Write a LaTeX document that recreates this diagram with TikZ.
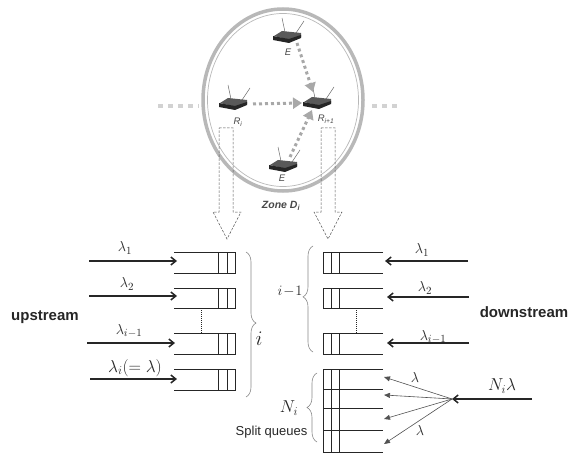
\documentclass[tikz,border=0pt]{standalone}
\usepackage{fontspec}
\setsansfont{Liberation Sans}
\usetikzlibrary{arrows.meta}
\usetikzlibrary{decorations.pathreplacing}

\definecolor{ink}{gray}{0.15}
\definecolor{ringgray}{gray}{0.72}
\definecolor{linkgray}{gray}{0.66}

\tikzset{
  queue/.style={ink, line width=1pt},
  flow/.style={ink, line width=1.3pt, -{Straight Barb[length=5pt,width=8pt,line width=1.5pt]}},
  split/.style={ink!80, line width=0.6pt, -{Triangle[length=6pt,width=5pt]}},
  link/.style={linkgray, line width=3pt, dash pattern=on 3pt off 3pt, -{Triangle[length=9pt,width=11pt]}},
  stub/.style={gray!35, line width=3.5pt, dash pattern=on 5pt off 5pt},
  hollow/.style={ink!80, line width=0.5pt, dash pattern=on 2.5pt off 1.5pt},
  curly/.style={ink!55, line width=0.6pt, decorate},
  small/.style={font=\sffamily\itshape\fontsize{9.5}{11}\selectfont, text=ink!85, inner sep=0pt},
  bigtext/.style={font=\sffamily\bfseries\fontsize{15}{17}\selectfont, text=ink, inner sep=0pt},
  rate/.style={font=\fontsize{15}{17}\selectfont, text=ink, inner sep=0pt},
  router/.pic={
    \draw[ink!70, line width=0.5pt] (-2,-5) -- (-5,-19);
    \draw[ink!70, line width=0.5pt] (9,-4) -- (17,-16);
    \fill[gray!70!black] (-13,-1) -- (-5,-6) -- (14,-4) -- (14,0) -- (4,3) -- cycle;
    \fill[ink] (-14,-1) -- (2,2) -- (14,-2) -- (14,1) -- (2,6) -- (-14,3) -- cycle;
  }
}

% left queue, rows at y=#1 and y=#2
\newcommand{\upqueue}[2]{
  \draw[queue] (174,#1) -- (235,#1) -- (235,#2) -- (174,#2);
  \draw[queue] (218,#1) -- (218,#2);
  \draw[queue] (227,#1) -- (227,#2);
}
\newcommand{\downqueue}[2]{
  \draw[queue] (383,#1) -- (323,#1) -- (323,#2) -- (383,#2);
  \draw[queue] (331,#1) -- (331,#2);
  \draw[queue] (339,#1) -- (339,#2);
}

\begin{document}
\begin{tikzpicture}[x=1pt, y=-1pt]
  \useasboundingbox (0,0) rectangle (569,454);

  % zone
  \draw[ringgray, line width=3.5pt] (283,100) ellipse (80 and 91);
  \draw[ringgray, line width=0.7pt] (283,100) ellipse (75.5 and 86.5);

  \coordinate (Etop) at (287,37);
  \coordinate (Ebot) at (283,166);
  \coordinate (Ri) at (233,104);
  \coordinate (Rnext) at (317,103);

  \pic at (Etop) {router};
  \pic at (Ebot) {router};
  \pic at (Ri) {router};
  \pic at (Rnext) {router};

  \draw[link] ([shift={(10,6)}]Etop) -- ([shift={(-4,-11)}]Rnext);
  \draw[link] ([shift={(20,0)}]Ri) -- ([shift={(-15,0)}]Rnext);
  \draw[link] ([shift={(7,-9)}]Ebot) -- ([shift={(-5,7)}]Rnext);

  \coordinate (stubLa) at (158,106);
  \coordinate (stubLb) at (199,106);
  \coordinate (stubRa) at (372,106);
  \coordinate (stubRb) at (400,106);
  \draw[stub] (stubLa) -- (stubLb);
  \draw[stub] (stubRa) -- (stubRb);

  \node[small] (labE) at (288,52) {E};
  \node[small] (labEb) at (282,178) {E};
  \node[small] (labRi) at (238,122) {R\textsubscript{i}};
  \node[small] (labRn) at (326,119) {R\textsubscript{i+1}};
  \node[small, font=\sffamily\itshape\bfseries\fontsize{10.5}{12}\selectfont] (zone) at (281,206) {Zone D\textsubscript{i}};

  % block arrows
  \draw[hollow] (219,128) -- (233,128) -- (233,212) -- (241,212) -- (227,239) -- (213,212) -- (219,212) -- cycle;
  \draw[hollow] (321,128) -- (335,128) -- (335,212) -- (342,212) -- (328,239) -- (314,212) -- (321,212) -- cycle;

  % upstream side
  \upqueue{252}{273}
  \upqueue{288}{308}
  \upqueue{333}{354}
  \upqueue{369}{390}
  \coordinate (ua) at (89,261);  \coordinate (qa) at (177,261);
  \coordinate (ub) at (89,296);  \coordinate (qb) at (177,296);
  \coordinate (uc) at (87,343);  \coordinate (qc) at (175,343);
  \coordinate (ud) at (90,379);  \coordinate (qd) at (177,379);
  \draw[flow] (ua) -- (qa);
  \draw[flow] (ub) -- (qb);
  \draw[flow] (uc) -- (qc);
  \draw[flow] (ud) -- (qd);
  \coordinate (gapa) at (201,308);
  \coordinate (gapb) at (201,333);
  \draw[queue, densely dotted] (gapa) -- (gapb);

  \node[rate] (la) at (125,248) {$\lambda_1$};
  \node[rate] (lb) at (127,284) {$\lambda_2$};
  \node[rate] (lc) at (129,331) {$\lambda_{i-1}$};
  \node[rate, font=\fontsize{18}{20}\selectfont] (ld) at (135,368) {$\lambda_i(=\lambda)$};
  \node[bigtext] (up) at (45,317) {upstream};

  \coordinate (bra) at (246,252);
  \coordinate (brb) at (246,397);
  \draw[curly, decoration={brace, amplitude=10pt, aspect=0.49}] (bra) -- (brb);
  \node[font=\fontsize{21}{23}\selectfont, text=ink, inner sep=0pt] (ci) at (259,339) {$i$};

  % downstream side
  \downqueue{252}{273}
  \downqueue{288}{308}
  \downqueue{333}{354}
  \coordinate (da) at (468,261);  \coordinate (pa) at (385,261);
  \coordinate (db) at (469,297);  \coordinate (pb) at (387,297);
  \coordinate (dc) at (469,343);  \coordinate (pc) at (387,343);
  \draw[flow] (da) -- (pa);
  \draw[flow] (db) -- (pb);
  \draw[flow] (dc) -- (pc);
  \coordinate (gapc) at (356,308);
  \coordinate (gapd) at (356,333);
  \draw[queue, densely dotted] (gapc) -- (gapd);

  \node[rate] (ra) at (422,250) {$\lambda_1$};
  \node[rate] (rb) at (425,288) {$\lambda_2$};
  \node[rate] (rc) at (433,337) {$\lambda_{i-1}$};
  \node[bigtext] (down) at (524,312) {downstream};

  \coordinate (brc) at (313,352);
  \coordinate (brd) at (313,246);
  \draw[curly, decoration={brace, amplitude=10pt, aspect=0.52}] (brc) -- (brd);
  \node[rate] (cj) at (290,291) {$i\!-\!1$};

  % split queues
  \draw[queue] (383,369) -- (323,369) -- (323,452) -- (383,452);
  \draw[queue] (323,389) -- (383,389);
  \draw[queue] (323,408) -- (383,408);
  \draw[queue] (323,430) -- (383,430);
  \draw[queue] (331,369) -- (331,452);
  \draw[queue] (339,369) -- (339,452);

  \coordinate (src) at (532,399);
  \coordinate (hub) at (452,399);
  \coordinate (sa) at (384,377);
  \coordinate (sb) at (384,395);
  \coordinate (sc) at (384,419);
  \coordinate (sd) at (384,444);
  \draw[flow] (src) -- (hub);
  \draw[split] (hub) -- (sa);
  \draw[split] (hub) -- (sb);
  \draw[split] (hub) -- (sc);
  \draw[split] (hub) -- (sd);

  \node[rate] (ls) at (415,377) {$\lambda$};
  \node[rate] (lt) at (420,430) {$\lambda$};
  \node[rate, font=\fontsize{18}{20}\selectfont] (ln) at (502,386) {$N_i\lambda$};
  \node[rate, font=\fontsize{18}{20}\selectfont] (ni) at (289,408) {$N_i$};
  \node[inner sep=0pt, text=ink, font=\sffamily\fontsize{13}{15}\selectfont] (sq) at (271.5,432) {Split queues};

  \coordinate (bre) at (317,442);
  \coordinate (brf) at (317,373);
  \draw[curly, decoration={brace, amplitude=10pt, aspect=0.5}] (bre) -- (brf);
\end{tikzpicture}
\end{document}
